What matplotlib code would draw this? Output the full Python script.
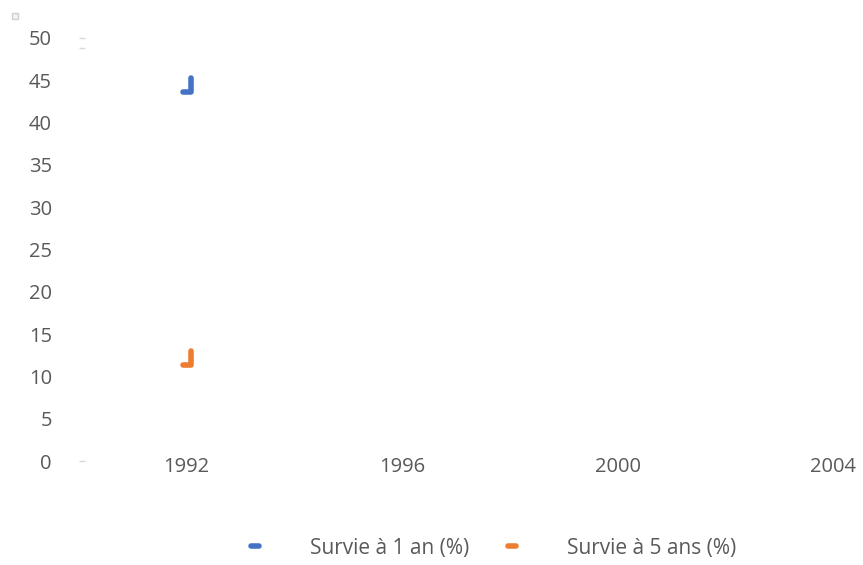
import numpy as np
import matplotlib.pyplot as plt
from matplotlib.lines import Line2D

# series data (very short segments near 1992)
years_1an = [1991.93, 1992.07, 1992.07]
survie_1an = [43.6, 43.6, 45.2]
years_5ans = [1991.93, 1992.07, 1992.07]
survie_5ans = [11.4, 11.4, 13.0]

xticks = [1992, 1996, 2000, 2004]
yticks = [0, 5, 10, 15, 20, 25, 30, 35, 40, 45, 50]
labels = ['Survie à 1 an (%)', 'Survie à 5 ans (%)']
colors = ['#4472C4', '#ED7D31']

plt.rcParams['font.family'] = ['Open Sans', 'DejaVu Sans']

fig = plt.figure(figsize=(8.63, 5.65), dpi=100)
ax = fig.add_axes([0.089, 0.184, 0.911, 0.749])

ax.plot(years_1an, survie_1an, color=colors[0], lw=4,
        solid_capstyle='round', solid_joinstyle='round')
ax.plot(years_5ans, survie_5ans, color=colors[1], lw=4,
        solid_capstyle='round', solid_joinstyle='round')

ax.set_xlim(1989.96, 2004.55)
ax.set_ylim(0, 50)
ax.set_xticks(xticks)
ax.set_yticks(yticks)
for s in ax.spines.values():
    s.set_visible(False)
ax.tick_params(axis='both', length=0, labelsize=14.5, colors='#595959')
ax.tick_params(axis='x', pad=-3)
ax.tick_params(axis='y', pad=18)

# faint tick marks at the ends of the axis
ax.plot([1990.05, 1990.05], [0, 50], ls='none', marker='_', ms=5,
        color='#d9d9d9', clip_on=False)
ax.plot([1990.05], [48.8], ls='none', marker='_', ms=5,
        color='#d9d9d9', clip_on=False)
fig.add_artist(Line2D([0.017], [0.972], ls='none', marker='s', ms=4,
                      mfc='#f2f2f2', mec='#d0d0d0', mew=1))

handles = [Line2D([0], [0], color=c, lw=4, solid_capstyle='round')
           for c in colors]
leg = fig.legend(handles, labels, loc='center', bbox_to_anchor=(0.572, 0.03),
                 ncol=2, frameon=False, handlelength=0.35, handletextpad=2.45,
                 columnspacing=1.9, fontsize=15)
for t in leg.get_texts():
    t.set_color('#595959')

fig.savefig('out.png', dpi=100)
